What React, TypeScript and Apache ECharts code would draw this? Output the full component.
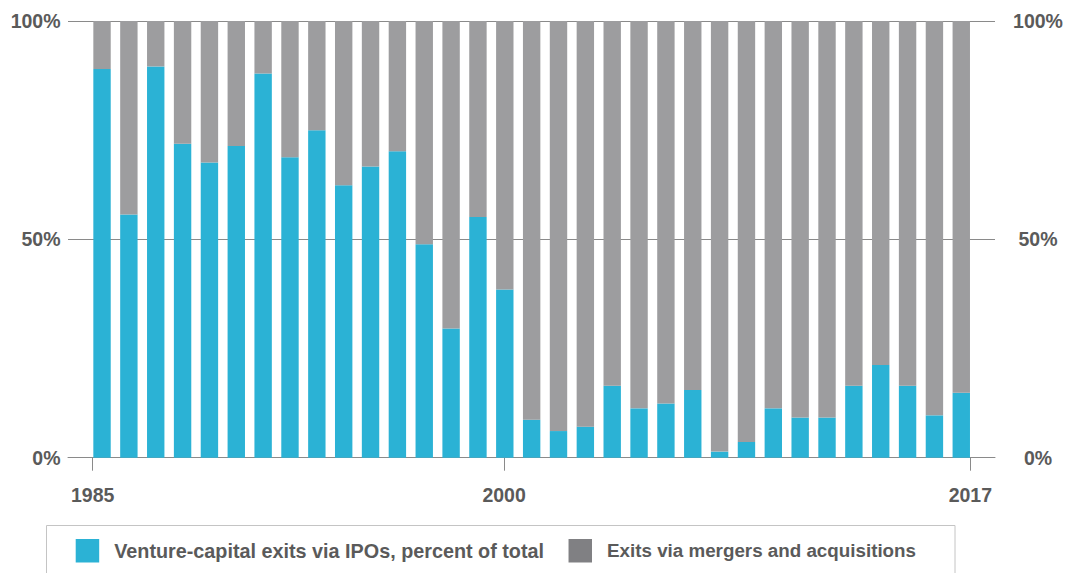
import React, { useEffect, useRef } from "react";
import * as echarts from "echarts";

const years = [
  "1985", "1986", "1987", "1988", "1989", "1990", "1991", "1992", "1993", "1994", "1995",
  "1996", "1997", "1998", "1999", "2000", "2001", "2002", "2003", "2004", "2005", "2006",
  "2007", "2008", "2009", "2010", "2011", "2012", "2013", "2014", "2015", "2016", "2017",
];

const ipoShare = [
  89.0, 55.7, 89.6, 71.9, 67.6, 71.4, 88.0, 68.8, 75.0, 62.4, 66.7,
  70.2, 48.9, 29.6, 55.1, 38.5, 8.7, 6.1, 7.1, 16.5, 11.3, 12.4,
  15.5, 1.4, 3.6, 11.3, 9.2, 9.2, 16.5, 21.2, 16.5, 9.7, 14.9,
];

const maShare = [
  11.0, 44.3, 10.4, 28.1, 32.4, 28.6, 12.0, 31.2, 25.0, 37.6, 33.3,
  29.8, 51.1, 70.4, 44.9, 61.5, 91.3, 93.9, 92.9, 83.5, 88.7, 87.6,
  84.5, 98.6, 96.4, 88.7, 90.8, 90.8, 83.5, 78.8, 83.5, 90.3, 85.1,
];

const xTickYears = [1985, 2000, 2017];

const seriesNames = [
  "Venture-capital exits via IPOs, percent of total",
  "Exits via mergers and acquisitions",
];

const FONT = '"Liberation Sans", Arial, Helvetica, sans-serif';
const TEXT = "#5a5a5a";
const BLUE = "#2bb2d5";
const GRAY = "#9d9d9f";
const GRAY_LEGEND = "#808083";

export default function App() {
  const ref = useRef<HTMLDivElement>(null);

  useEffect(() => {
    if (!ref.current) return;
    const chart = echarts.init(ref.current, null, { renderer: "svg" });
    const labelStyle = { fontFamily: FONT, fontWeight: "bold" as const, fontSize: 19.5, color: TEXT };
    const legendText = {
      fontFamily: FONT,
      fontWeight: "bold" as const,
      fontSize: 19.8,
      color: TEXT,
      padding: [0, 0, 0, 10],
    };
    chart.setOption({
      animation: false,
      grid: [
        { left: 68, right: 75, top: 21, bottom: 115.3 },
        { left: 88.6, right: 95.3, top: 21, bottom: 115.3 },
      ],
      xAxis: [
        {
          type: "value",
          gridIndex: 0,
          min: 1984.1,
          max: 2017.9,
          axisLine: { show: true, lineStyle: { color: "#8a8a8a", width: 1 } },
          axisTick: { show: true, length: 13, customValues: xTickYears, lineStyle: { color: "#8a8a8a" } },
          axisLabel: {
            ...labelStyle,
            customValues: xTickYears,
            margin: 27,
            formatter: (v: number) => String(Math.round(v)),
          },
          splitLine: { show: false },
        },
        {
          type: "category",
          gridIndex: 1,
          data: years,
          show: false,
        },
      ],
      yAxis: [
        {
          type: "value",
          gridIndex: 0,
          min: 0,
          max: 100,
          interval: 50,
          position: "left",
          axisLine: { show: false },
          axisTick: { show: false },
          axisLabel: { ...labelStyle, margin: 7.5, formatter: "{value}%" },
          splitLine: { show: true, lineStyle: { color: "#8a8a8a", width: 1 } },
        },
        {
          type: "value",
          gridIndex: 0,
          min: 0,
          max: 100,
          interval: 50,
          position: "right",
          axisLine: { show: false },
          axisTick: { show: false },
          axisLabel: { ...labelStyle, margin: 43, align: "center", formatter: "{value}%" },
          splitLine: { show: false },
        },
        {
          type: "value",
          gridIndex: 1,
          min: 0,
          max: 100,
          show: false,
          splitLine: { show: false },
        },
      ],
      legend: {
        left: 75.7,
        top: 539,
        orient: "horizontal",
        itemWidth: 23.5,
        itemHeight: 23.5,
        itemGap: 24.5,
        padding: 0,
        icon: "rect",
        selectedMode: false,
        textStyle: legendText,
        data: [
          { name: seriesNames[0], itemStyle: { color: BLUE }, textStyle: legendText },
          {
            name: seriesNames[1],
            itemStyle: { color: GRAY_LEGEND },
            textStyle: { ...legendText, fontSize: 18.8 },
          },
        ],
      },
      graphic: [
        {
          type: "rect",
          shape: { x: 46.5, y: 525.5, width: 908.5, height: 80 },
          style: { fill: "none", stroke: "#c4c4c4", lineWidth: 1 },
          silent: true,
        },
      ],
      series: [
        {
          name: seriesNames[0],
          type: "bar",
          stack: "total",
          xAxisIndex: 1,
          yAxisIndex: 2,
          barWidth: 17.4,
          data: ipoShare,
          itemStyle: { color: BLUE },
        },
        {
          name: seriesNames[1],
          type: "bar",
          stack: "total",
          xAxisIndex: 1,
          yAxisIndex: 2,
          barWidth: 17.4,
          data: maShare,
          itemStyle: { color: GRAY },
        },
      ],
    });
    return () => chart.dispose();
  }, []);

  return (
    <div
      ref={ref}
      style={{ position: "fixed", left: 0, top: 0, width: 1070, height: 573, background: "#fff" }}
    />
  );
}
